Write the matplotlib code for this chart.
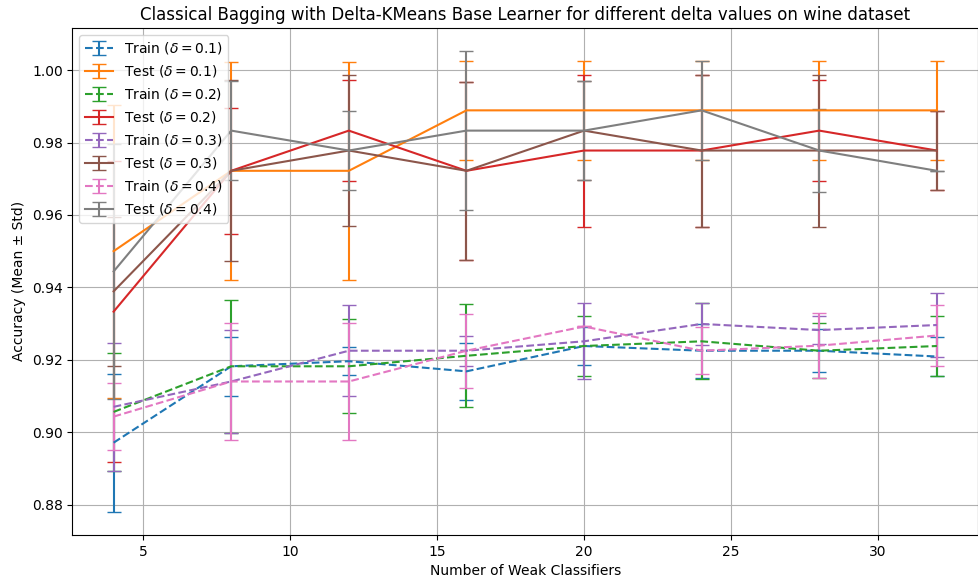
import numpy as np
import matplotlib
matplotlib.use("Agg")
import matplotlib.pyplot as plt

n_estimators = [4, 8, 12, 16, 20, 24, 28, 32]
deltas = [0.1, 0.2, 0.3, 0.4]

# mean / std of accuracy per delta
train_mean = {
    0.1: [0.8971, 0.9182, 0.9196, 0.9168, 0.9238, 0.9225, 0.9225, 0.9209],
    0.2: [0.9056, 0.9182, 0.9182, 0.9211, 0.9238, 0.9251, 0.9225, 0.9238],
    0.3: [0.9070, 0.9140, 0.9225, 0.9225, 0.9251, 0.9299, 0.9282, 0.9296],
    0.4: [0.9043, 0.9140, 0.9140, 0.9225, 0.9292, 0.9225, 0.9239, 0.9267],
}
train_std = {
    0.1: [0.0191, 0.0082, 0.0038, 0.0079, 0.0053, 0.0074, 0.0060, 0.0053],
    0.2: [0.0162, 0.0184, 0.0130, 0.0142, 0.0082, 0.0105, 0.0076, 0.0082],
    0.3: [0.0177, 0.0141, 0.0125, 0.0042, 0.0105, 0.0057, 0.0038, 0.0088],
    0.4: [0.0092, 0.0161, 0.0161, 0.0102, 0.0000, 0.0065, 0.0090, 0.0083],
}
test_mean = {
    0.1: [0.9500, 0.9722, 0.9722, 0.9889, 0.9889, 0.9889, 0.9889, 0.9889],
    0.2: [0.9333, 0.9722, 0.9833, 0.9722, 0.9778, 0.9778, 0.9833, 0.9778],
    0.3: [0.9389, 0.9722, 0.9778, 0.9722, 0.9833, 0.9778, 0.9778, 0.9778],
    0.4: [0.9444, 0.9833, 0.9778, 0.9833, 0.9833, 0.9889, 0.9778, 0.9722],
}
test_std = {
    0.1: [0.0405, 0.0301, 0.0301, 0.0136, 0.0136, 0.0136, 0.0136, 0.0136],
    0.2: [0.0415, 0.0174, 0.0139, 0.0246, 0.0210, 0.0210, 0.0139, 0.0110],
    0.3: [0.0205, 0.0250, 0.0209, 0.0246, 0.0137, 0.0210, 0.0210, 0.0110],
    0.4: [0.0353, 0.0137, 0.0110, 0.0220, 0.0137, 0.0136, 0.0115, 0.0000],
}

fig, ax = plt.subplots(figsize=(9.79, 5.82), dpi=100)

for d in deltas:
    ax.errorbar(n_estimators, train_mean[d], yerr=train_std[d], capsize=5,
                linestyle='--', label=rf'Train ($\delta={d}$)')
    ax.errorbar(n_estimators, test_mean[d], yerr=test_std[d], capsize=5,
                linestyle='-', label=rf'Test ($\delta={d}$)')

ax.set_title('Classical Bagging with Delta-KMeans Base Learner for different delta values on wine dataset')
ax.set_xlabel('Number of Weak Classifiers')
ax.set_ylabel('Accuracy (Mean ± Std)')
ax.legend(loc='upper left')
ax.grid(True)

fig.subplots_adjust(left=0.074, right=0.999, top=0.952, bottom=0.081)
fig.savefig('out.png')
